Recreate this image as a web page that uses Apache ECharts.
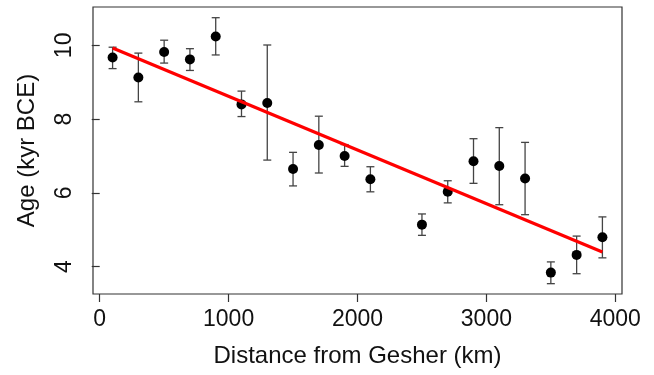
<!DOCTYPE html>
<html>
<head>
<meta charset="utf-8">
<script src="https://cdn.jsdelivr.net/npm/echarts@6/dist/echarts.min.js"></script>
<style>
html,body{margin:0;padding:0;background:#fff;}
#chart{width:654px;height:375px;}
</style>
</head>
<body>
<div id="chart"></div>
<script>
// Distance from Gesher (km)
const distances = [100, 300, 500, 700, 900, 1100, 1300, 1500, 1700, 1900, 2100, 2500, 2700, 2900, 3100, 3300, 3500, 3700, 3900];
// Age (kyr BCE) point estimates
const ages =      [9.67, 9.13, 9.82, 9.62, 10.24, 8.40, 8.44, 6.65, 7.30, 7.00, 6.37, 5.14, 6.03, 6.86, 6.73, 6.39, 3.84, 4.32, 4.80];
// error bar lower / upper bounds
const lowers =    [9.37, 8.47, 9.52, 9.32, 9.74, 8.07, 6.89, 6.19, 6.54, 6.72, 6.03, 4.85, 5.73, 6.26, 5.68, 5.41, 3.54, 3.81, 4.24];
const uppers =    [9.95, 9.79, 10.14, 9.91, 10.75, 8.76, 10.01, 7.10, 8.08, 7.31, 6.71, 5.43, 6.33, 7.47, 7.77, 7.37, 4.13, 4.83, 5.35];
// regression line endpoints
const fitX = [100, 3900];
const fitY = [9.93, 4.40];
// tick labels
const xTicks = [0, 1000, 2000, 3000, 4000];
const yTicks = [4, 6, 8, 10];

const pointData = distances.map((d, i) => [d, ages[i]]);
const errData = distances.map((d, i) => [d, lowers[i], uppers[i]]);
const fitData = fitX.map((d, i) => [d, fitY[i]]);

const FONT = 'Liberation Sans, Arial, Helvetica, sans-serif';
const chart = echarts.init(document.getElementById('chart'), null, {renderer: 'canvas'});
chart.setOption({
  animation: false,
  backgroundColor: '#fff',
  grid: {left: 93, right: 32, top: 7, bottom: 81, show: true, borderColor: '#333', borderWidth: 1.2, backgroundColor: 'transparent'},
  xAxis: {
    type: 'value', min: -52, max: 4052,
    name: 'Distance from Gesher (km)', nameLocation: 'middle', nameGap: 50,
    nameTextStyle: {fontFamily: FONT, fontSize: 24, color: '#111'},
    axisLine: {show: false},
    splitLine: {show: false},
    axisTick: {show: true, inside: false, length: 8, customValues: xTicks, lineStyle: {color: '#333', width: 1.2}},
    axisLabel: {customValues: xTicks, margin: 14, fontFamily: FONT, fontSize: 23, color: '#111', formatter: function (v) { return String(v); }}
  },
  yAxis: {
    type: 'value', min: 3.26, max: 11.04,
    name: 'Age (kyr BCE)', nameLocation: 'middle', nameGap: 54, nameRotate: 90,
    nameTextStyle: {fontFamily: FONT, fontSize: 24, color: '#111'},
    axisLine: {show: false},
    splitLine: {show: false},
    axisTick: {show: true, inside: false, length: 8, customValues: yTicks, lineStyle: {color: '#333', width: 1.2}},
    axisLabel: {customValues: yTicks, rotate: 90, margin: 17, fontFamily: FONT, fontSize: 23, color: '#111', formatter: function (v) { return String(v); }}
  },
  series: [
    {
      type: 'custom',
      z: 2,
      data: errData,
      renderItem: function (params, api) {
        const x = api.value(0);
        const lo = api.coord([x, api.value(1)]);
        const hi = api.coord([x, api.value(2)]);
        const w = 4;
        const style = {stroke: '#444', lineWidth: 1.3, fill: null};
        return {
          type: 'group',
          children: [
            {type: 'line', shape: {x1: lo[0], y1: lo[1], x2: hi[0], y2: hi[1]}, style: style},
            {type: 'line', shape: {x1: lo[0] - w, y1: lo[1], x2: lo[0] + w, y2: lo[1]}, style: style},
            {type: 'line', shape: {x1: hi[0] - w, y1: hi[1], x2: hi[0] + w, y2: hi[1]}, style: style}
          ]
        };
      }
    },
    {
      type: 'scatter',
      z: 3,
      data: pointData,
      symbol: 'circle',
      symbolSize: 10,
      itemStyle: {color: '#000', opacity: 1}
    },
    {
      type: 'line',
      z: 4,
      data: fitData,
      symbol: 'none',
      lineStyle: {color: '#ff0000', width: 3.2}
    }
  ]
});
</script>
</body>
</html>
